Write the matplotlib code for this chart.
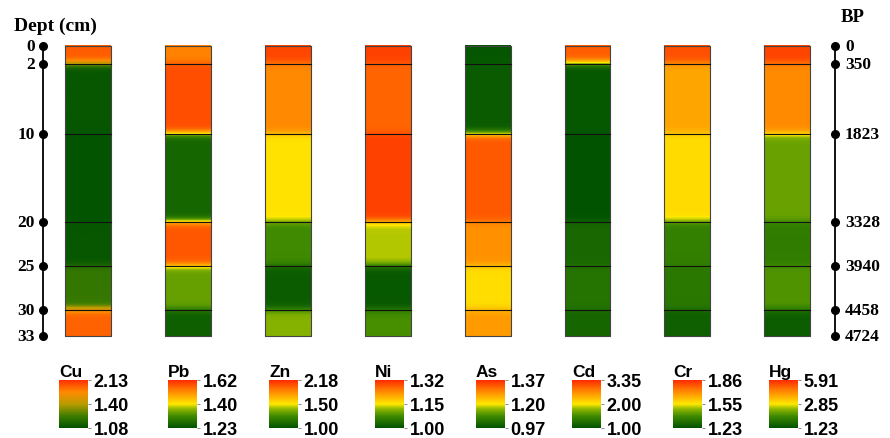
import numpy as np
import matplotlib
matplotlib.use("Agg")
import matplotlib.pyplot as plt
from matplotlib.colors import LinearSegmentedColormap, TwoSlopeNorm

# layer boundaries (cm) and matching ages (BP)
depths = [0, 2, 10, 20, 25, 30, 33]
bp_ages = [0, 350, 1823, 3328, 3940, 4458, 4724]

metals = ["Cu", "Pb", "Zn", "Ni", "As", "Cd", "Cr", "Hg"]

# colour-bar range for each metal: low / middle / high
cb_low = [1.08, 1.23, 1.00, 1.00, 0.97, 1.00, 1.23, 1.23]
cb_mid = [1.40, 1.40, 1.50, 1.15, 1.20, 2.00, 1.55, 2.85]
cb_high = [2.13, 1.62, 2.18, 1.32, 1.37, 3.35, 1.86, 5.91]

# values per layer (0-2, 2-10, 10-20, 20-25, 25-30, 30-33 cm)
cu = [1.95, 1.10, 1.09, 1.10, 1.22, 1.92]
pb = [1.52, 1.58, 1.26, 1.57, 1.34, 1.25]
zn = [2.08, 1.85, 1.52, 1.25, 1.05, 1.38]
ni = [1.30, 1.27, 1.30, 1.13, 1.01, 1.08]
as_ = [0.98, 0.99, 1.33, 1.28, 1.21, 1.27]
cd = [3.00, 1.05, 1.02, 1.20, 1.30, 1.18]
cr = [1.80, 1.66, 1.57, 1.36, 1.34, 1.27]
hg = [5.50, 4.40, 2.30, 1.85, 2.15, 1.40]
layer_values = [cu, pb, zn, ni, as_, cd, cr, hg]

cmap = LinearSegmentedColormap.from_list(
    "gyr", [(0.0, "#005200"), (0.25, "#3f8a00"), (0.4, "#90b800"), (0.5, "#ffe800"),
            (0.65, "#ffb000"), (0.8, "#ff7a00"), (1.0, "#ff2a00")])
cmap_cu = LinearSegmentedColormap.from_list(
    "cu", [(0.0, "#005200"), (0.25, "#3d7d00"), (0.5, "#b89c00"),
           (0.75, "#ff8a00"), (1.0, "#ff3000")])

fig = plt.figure(figsize=(8.9, 4.39), dpi=100)
ax = fig.add_axes([0, 1 - 350 / 439, 1, 345 / 439])

half_w = 0.23
thick = np.diff(depths)
for i, vals in enumerate(layer_values):
    norm = TwoSlopeNorm(vmin=cb_low[i], vcenter=cb_mid[i], vmax=cb_high[i])
    cm = cmap_cu if i == 0 else cmap
    column = np.repeat(vals, thick)[:, None]
    ax.imshow(column, cmap=cm, norm=norm, aspect="auto", interpolation="gaussian",
              interpolation_stage="data",
              extent=(i - half_w, i + half_w, depths[-1], depths[0]), origin="upper")
    # outline and layer lines
    ax.plot([i - half_w, i + half_w, i + half_w, i - half_w, i - half_w],
            [0, 0, depths[-1], depths[-1], 0], color="#444444", lw=0.8)
    for d in depths[1:-1]:
        ax.plot([i - half_w, i + half_w], [d, d], color="#111111", lw=0.8)

# depth axis on the left
xl = -0.45
ax.plot([xl, xl], [depths[0], depths[-1]], color="black", lw=1.3)
ax.plot([xl] * len(depths), depths, "o", color="black", ms=5.5)
for d in depths:
    ax.text(xl - 0.08, d, str(d), ha="right", va="center", fontsize=12.5,
            fontweight="bold", family="Liberation Serif")
ax.text(-0.33, -2.3, "Dept (cm)", ha="center", va="center", fontsize=14,
        fontweight="bold", family="Liberation Serif")

# age axis on the right
xr = 7.477
ax.plot([xr, xr], [depths[0], depths[-1]], color="black", lw=1.3)
ax.plot([xr] * len(depths), depths, "o", color="black", ms=5.5)
for d, a in zip(depths, bp_ages):
    ax.text(xr + 0.1, d, str(a), ha="left", va="center", fontsize=12.5,
            fontweight="bold", family="Liberation Serif")
ax.text(7.65, -3.4, "BP", ha="center", va="center", fontsize=13.5,
        fontweight="bold", family="Liberation Serif")

ax.set_xlim((0 - 88) / 99.9, (890 - 88) / 99.9)
ax.set_ylim((350 - 47) / 8.79, (5 - 47) / 8.79)
ax.axis("off")

# colour bars
cb_left = [59, 168, 269, 375, 476, 572, 673, 769]
for i, name in enumerate(metals):
    cax = fig.add_axes([cb_left[i] / 890, 1 - 429 / 439, 29 / 890, 48 / 439])
    norm = TwoSlopeNorm(vmin=cb_low[i], vcenter=cb_mid[i], vmax=cb_high[i])
    cm = cmap_cu if i == 0 else cmap
    sm = plt.cm.ScalarMappable(norm=norm, cmap=cm)
    cb = fig.colorbar(sm, cax=cax, ticks=[cb_low[i], cb_mid[i], cb_high[i]])
    cb.ax.set_yticklabels([f"{v:.2f}" for v in (cb_low[i], cb_mid[i], cb_high[i])])
    cb.outline.set_visible(False)
    cb.ax.tick_params(length=2, width=0.6, color="#777777", pad=2, labelsize=13)
    for t in cb.ax.get_yticklabels():
        t.set_fontweight("bold")
        t.set_family("Liberation Sans")
    cax.set_title(name, loc="left", fontsize=12.5, fontweight="bold",
                  family="Liberation Sans", pad=3)

fig.savefig("out.png", dpi=100)
